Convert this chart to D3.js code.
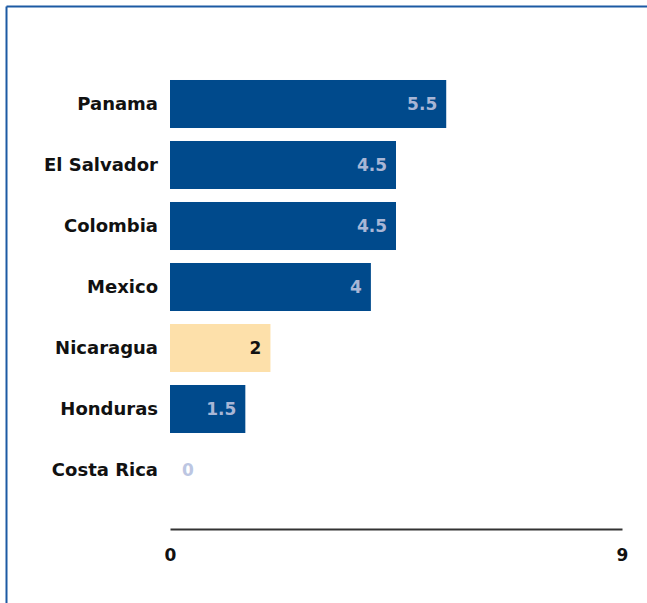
<!DOCTYPE html>
<html>
<head>
<meta charset="utf-8">
<script src="https://cdn.jsdelivr.net/npm/d3@7"></script>
<style>
  html, body { margin: 0; padding: 0; background: #fff; }
  svg { display: block; }
</style>
</head>
<body>
<svg id="chart" width="647" height="603"></svg>
<script>
const categories = ["Panama", "El Salvador", "Colombia", "Mexico", "Nicaragua", "Honduras", "Costa Rica"];
const values = [5.5, 4.5, 4.5, 4, 2, 1.5, 0];
const highlighted = ["Nicaragua"];
const axisTicks = [0, 9];

const svg = d3.select("#chart");
const W = 647, H = 603;

// frame
svg.append("line").attr("x1", 6.5).attr("x2", W).attr("y1", 6.5).attr("y2", 6.5)
  .attr("stroke", "#1c5aa3").attr("stroke-width", 2);
svg.append("line").attr("x1", 6.5).attr("x2", 6.5).attr("y1", 6.5).attr("y2", H)
  .attr("stroke", "#1c5aa3").attr("stroke-width", 2);

const x = d3.scaleLinear().domain([0, 9]).range([170, 622]);
const y = d3.scaleBand().domain(categories).range([73.5, 500.5])
  .paddingInner(0.213).paddingOuter(0.1065);

const font = "'DejaVu Sans', Verdana, sans-serif";

// bars
svg.append("g").selectAll("rect").data(categories).join("rect")
  .attr("x", x(0))
  .attr("y", d => y(d))
  .attr("width", (d, i) => x(values[i]) - x(0))
  .attr("height", y.bandwidth())
  .attr("fill", d => highlighted.includes(d) ? "#fde0aa" : "#004a8c");

// category labels
svg.append("g").selectAll("text").data(categories).join("text")
  .attr("x", 158)
  .attr("y", d => y(d) + y.bandwidth() / 2)
  .attr("dy", "0.36em")
  .attr("text-anchor", "end")
  .attr("font-family", font)
  .attr("font-weight", "bold")
  .attr("font-size", 18)
  .attr("fill", "#111")
  .text(d => d);

// value labels
svg.append("g").selectAll("text").data(categories).join("text")
  .attr("x", (d, i) => values[i] === 0 ? x(0) + 12 : x(values[i]) - 9)
  .attr("y", d => y(d) + y.bandwidth() / 2)
  .attr("dy", "0.36em")
  .attr("text-anchor", (d, i) => values[i] === 0 ? "start" : "end")
  .attr("font-family", font)
  .attr("font-weight", "bold")
  .attr("font-size", 17)
  .attr("fill", (d, i) => highlighted.includes(d) ? "#111" : (values[i] === 0 ? "#bcc6e2" : "#a8b6d6"))
  .text((d, i) => values[i]);

// axis
const axis = d3.axisBottom(x).tickValues(axisTicks).tickSize(0).tickPadding(20);
const ag = svg.append("g").attr("transform", "translate(0,529)").call(axis);
ag.select(".domain").attr("stroke", "#333").attr("stroke-width", 2);
ag.selectAll("text")
  .attr("font-family", font)
  .attr("font-weight", "bold")
  .attr("font-size", 17)
  .attr("fill", "#111");
</script>
</body>
</html>
